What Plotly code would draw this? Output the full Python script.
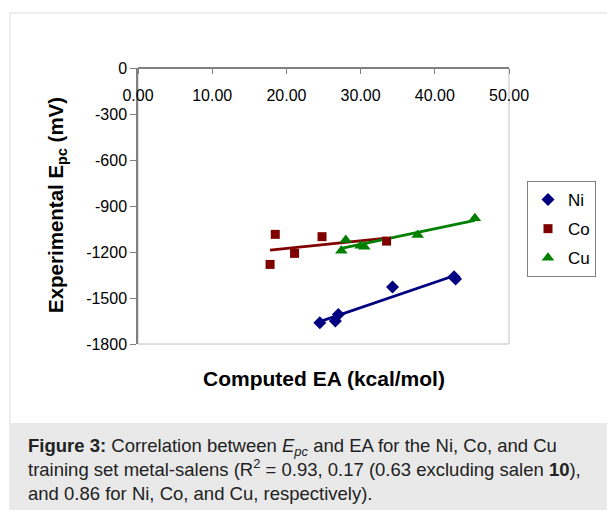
import numpy as np
import plotly.graph_objects as go

# ---- data ----
ni_x = [24.5, 26.6, 27.0, 34.3, 42.6, 42.8]
ni_y = [-1661, -1650, -1607, -1429, -1361, -1376]
co_x = [17.8, 18.5, 21.1, 24.8, 33.5]
co_y = [-1281, -1085, -1209, -1100, -1129]
cu_x = [27.4, 28.0, 30.0, 30.5, 37.7, 45.4]
cu_y = [-1192, -1122, -1160, -1165, -1089, -980]

x_ticks = [0, 10, 20, 30, 40, 50]
x_tick_labels = ["0.00", "10.00", "20.00", "30.00", "40.00", "50.00"]
y_ticks = [0, -300, -600, -900, -1200, -1500, -1800]
y_tick_labels = ["0", "-300", "-600", "-900", "-1200", "-1500", "-1800"]

series = [
    ("Ni", ni_x, ni_y, "#000080", "diamond", 10),
    ("Co", co_x, co_y, "#800000", "square", 9),
    ("Cu", cu_x, cu_y, "#008000", "triangle-up", 11),
]

FONT = "Arial, Liberation Sans, sans-serif"
OFF = 8  # page body margin
PAGE_W, PAGE_H = 615, 510
W, H = PAGE_W - OFF, PAGE_H - OFF
# plot area in page pixels
PL, PR, PT, PB = 138, 509, 68, 344
L, R, T, B = PL - OFF, PR - OFF, PT - OFF, PB - OFF


def px(x):  # page pixel -> paper x
    return (x - OFF - L) / (R - L)


def py(y):  # page pixel -> paper y
    return (B - (y - OFF)) / (B - T)


fig = go.Figure()

for name, xs, ys, color, sym, size in series:
    xs_a = np.array(xs)
    ys_a = np.array(ys)
    k, b = np.polyfit(xs_a, ys_a, 1)
    xl = np.array([xs_a.min(), xs_a.max()])
    fig.add_trace(go.Scatter(x=xl, y=k * xl + b, mode="lines",
                             line=dict(color=color, width=2.8),
                             showlegend=False, hoverinfo="skip"))

for name, xs, ys, color, sym, size in series:
    fig.add_trace(go.Scatter(x=xs, y=ys, mode="markers", name=name, legendgroup=name,
                             marker=dict(color=color, symbol=sym, size=size,
                                         line=dict(width=0))))

shapes = [
    # card border
    dict(type="rect", xref="paper", yref="paper",
         x0=px(10), x1=px(PAGE_W + 5), y0=py(PAGE_H + 5), y1=py(13),
         line=dict(color="#dcdcdc", width=1), fillcolor="white", layer="below"),
    # caption band
    dict(type="rect", xref="paper", yref="paper",
         x0=px(10), x1=px(PAGE_W + 5), y0=py(PAGE_H + 5), y1=py(423),
         line=dict(width=0), fillcolor="#e9e9e9", layer="below"),
    # plot-area border (light)
    dict(type="rect", xref="paper", yref="paper",
         x0=0, x1=1, y0=0, y1=1,
         line=dict(color="#c0c0c0", width=1), layer="below"),
]

annotations = [
    dict(text="<b>Experimental E<sub>pc</sub> (mV)</b>", xref="paper", yref="paper",
         x=px(57), y=py(205), textangle=-90, showarrow=False,
         font=dict(family=FONT, size=20.5, color="black"),
         xanchor="center", yanchor="middle"),
    dict(text="<b>Computed EA (kcal/mol)</b>", xref="paper", yref="paper",
         x=px(324), y=py(378), showarrow=False,
         font=dict(family=FONT, size=21, color="black"),
         xanchor="center", yanchor="middle"),
    dict(text="<b>Figure 3:</b> Correlation between <i>E<sub>pc</sub></i> and EA for the Ni, Co, and Cu<br>"
              "training set metal-salens (R<sup>2</sup> = 0.93, 0.17 (0.63 excluding salen <b>10</b>),<br>"
              "and 0.86 for Ni, Co, and Cu, respectively).",
         xref="paper", yref="paper", x=px(26), y=py(433), showarrow=False,
         align="left", xanchor="left", yanchor="top",
         font=dict(family=FONT, size=18.5, color="#222222")),
]

fig.update_layout(
    width=W, height=H,
    margin=dict(l=L, r=W - R, t=T, b=H - B, pad=0, autoexpand=False),
    paper_bgcolor="white", plot_bgcolor="white",
    font=dict(family=FONT, size=16, color="black"),
    shapes=shapes, annotations=annotations,
    showlegend=True,
    legend=dict(x=px(527), y=py(181), xanchor="left", yanchor="top",
                bgcolor="white", bordercolor="#808080", borderwidth=1,
                font=dict(family=FONT, size=17, color="black"),
                itemwidth=30, tracegroupgap=4),
)

fig.update_xaxes(range=[0, 50], side="bottom", anchor="free", position=1,
                 tickvals=x_ticks, ticktext=x_tick_labels,
                 ticks="outside", ticklen=5, tickcolor="#808080",
                 ticklabelstandoff=8,
                 showline=True, linecolor="#808080", linewidth=1.5,
                 showgrid=False, zeroline=False,
                 tickfont=dict(family=FONT, size=16, color="black"))
fig.update_yaxes(range=[-1800, 0], domain=[0, 1], tickvals=y_ticks, ticktext=y_tick_labels,
                 ticks="outside", ticklen=6, tickcolor="#808080",
                 showline=True, linecolor="#808080", linewidth=1.5,
                 showgrid=False, zeroline=False,
                 tickfont=dict(family=FONT, size=16, color="black"))

fig.write_html("out.html")
